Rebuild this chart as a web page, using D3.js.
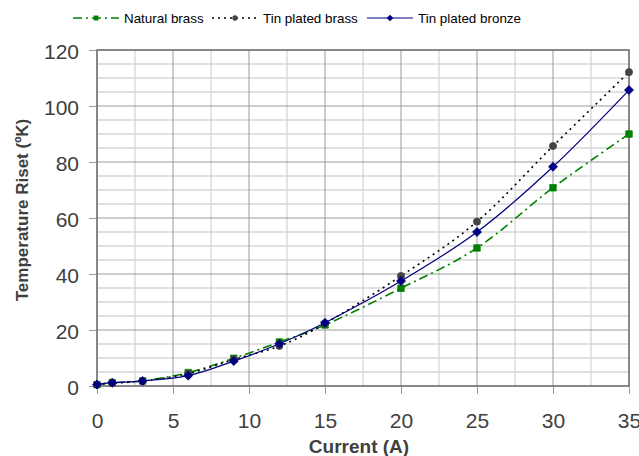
<!DOCTYPE html>
<html>
<head>
<meta charset="utf-8">
<script src="https://cdn.jsdelivr.net/npm/d3@7"></script>
<style>
  body { margin: 0; background: #fff; }
  svg { display: block; font-family: "Liberation Sans", Arial, sans-serif; }
</style>
</head>
<body>
<svg id="chart" width="639" height="456"></svg>
<script>
// data
var current = [0, 1, 3, 6, 9, 12, 15, 20, 25, 30, 35];
var naturalBrass = [0.5, 1.2, 1.8, 4.8, 9.9, 15.7, 21.8, 34.9, 49.3, 70.8, 90];
var tinPlatedBrass = [0.5, 1.0, 1.8, 4.4, 9.5, 14.3, 22.3, 39.3, 58.7, 85.7, 112.1];
var tinPlatedBronze = [0.5, 1.2, 1.8, 3.7, 8.9, 15.1, 22.6, 37.5, 55, 78.3, 105.7];
var seriesNames = ["Natural brass", "Tin plated brass", "Tin plated bronze"];
var xTicks = [0, 5, 10, 15, 20, 25, 30, 35];
var yTicks = [0, 20, 40, 60, 80, 100, 120];

var margin = { top: 50, right: 10, bottom: 70, left: 97 };
var svg = d3.select("#chart");
var width = 629 - margin.left;
var height = 386 - margin.top;

var x = d3.scaleLinear().domain([0, 35]).range([0, width]);
var y = d3.scaleLinear().domain([0, 120]).range([height, 0]);

var g = svg.append("g").attr("transform", "translate(" + margin.left + "," + margin.top + ")");

// minor grid
var xMinor = d3.range(0, 35.01, 2.5).filter(function (v) { return v % 5 !== 0; });
var yMinor = d3.range(0, 120.01, 5).filter(function (v) { return v % 20 !== 0; });
g.append("g").selectAll("line").data(xMinor).enter().append("line")
    .attr("x1", function (d) { return x(d); }).attr("x2", function (d) { return x(d); })
    .attr("y1", 0).attr("y2", height)
    .attr("stroke", "#d6d6d6").attr("stroke-width", 1.3);
g.append("g").selectAll("line").data(yMinor).enter().append("line")
    .attr("y1", function (d) { return y(d); }).attr("y2", function (d) { return y(d); })
    .attr("x1", 0).attr("x2", width)
    .attr("stroke", "#d6d6d6").attr("stroke-width", 1.3);

// major grid
g.append("g").selectAll("line").data(xTicks).enter().append("line")
    .attr("x1", function (d) { return x(d); }).attr("x2", function (d) { return x(d); })
    .attr("y1", 0).attr("y2", height)
    .attr("stroke", "#9a9a9a").attr("stroke-width", 1);
g.append("g").selectAll("line").data(yTicks).enter().append("line")
    .attr("y1", function (d) { return y(d); }).attr("y2", function (d) { return y(d); })
    .attr("x1", 0).attr("x2", width)
    .attr("stroke", "#9a9a9a").attr("stroke-width", 1);

// axes
var xAxis = g.append("g")
    .attr("transform", "translate(0," + height + ")")
    .call(d3.axisBottom(x).tickValues(xTicks).tickSize(8).tickPadding(19));
var yAxis = g.append("g")
    .call(d3.axisLeft(y).tickValues(yTicks).tickSize(8).tickPadding(10));
[xAxis, yAxis].forEach(function (a) {
    a.select(".domain").remove();
    a.selectAll(".tick line").attr("stroke", "#9a9a9a");
    a.selectAll(".tick text")
        .attr("fill", "#404040")
        .attr("font-size", 21)
        .attr("font-family", "Liberation Sans, Arial, sans-serif");
});
yAxis.selectAll(".tick text").attr("dy", "0.42em");
xAxis.selectAll(".tick text").attr("dy", "0.71em");

// plot frame
g.append("rect")
    .attr("width", width).attr("height", height)
    .attr("fill", "none").attr("stroke", "#707070").attr("stroke-width", 1.5);

// series
var series = [
    { name: seriesNames[0], values: naturalBrass, color: "#008000", dash: "9,4,2,4", width: 1.6, marker: "square", mcolor: "#008000" },
    { name: seriesNames[1], values: tinPlatedBrass, color: "#000000", dash: "2,4", width: 1.6, marker: "circle", mcolor: "#444444" },
    { name: seriesNames[2], values: tinPlatedBronze, color: "#000080", dash: null, width: 1.2, marker: "diamond", mcolor: "#000080" }
];
var symbols = {
    square: d3.symbol().type(d3.symbolSquare).size(42),
    circle: d3.symbol().type(d3.symbolCircle).size(40),
    diamond: d3.symbol().type(d3.symbolSquare).size(40)
};
var rot = { square: "", circle: "", diamond: " rotate(45)" };

var line = d3.line()
    .x(function (d) { return x(d[0]); })
    .y(function (d) { return y(d[1]); })
    .curve(d3.curveCardinal.tension(0));

series.forEach(function (s) {
    var pts = current.map(function (c, i) { return [c, s.values[i]]; });
    g.append("path")
        .datum(pts)
        .attr("d", line)
        .attr("fill", "none")
        .attr("stroke", s.color)
        .attr("stroke-width", s.width)
        .attr("stroke-dasharray", s.dash);
    g.append("g").selectAll("path").data(pts).enter().append("path")
        .attr("d", symbols[s.marker])
        .attr("transform", function (d) { return "translate(" + x(d[0]) + "," + y(d[1]) + ")" + rot[s.marker]; })
        .attr("fill", s.mcolor)
        .attr("stroke", s.mcolor)
        .attr("stroke-width", 0.8)
        .attr("stroke-linejoin", "round");
});

// legend
var legendX = [73, 212, 367];
var legend = svg.append("g").selectAll("g").data(series).enter().append("g")
    .attr("transform", function (d, i) { return "translate(" + legendX[i] + ",18)"; });
legend.append("line")
    .attr("x1", 0).attr("x2", 46).attr("y1", 0).attr("y2", 0)
    .attr("stroke", function (d) { return d.color; })
    .attr("stroke-width", function (d) { return d.width; })
    .attr("stroke-dasharray", function (d) { return d.dash; });
legend.append("path")
    .attr("d", function (d) { return symbols[d.marker](); })
    .attr("transform", function (d) { return "translate(23,0) scale(0.75)" + rot[d.marker]; })
    .attr("fill", function (d) { return d.mcolor; });
legend.append("text")
    .attr("x", 51).attr("y", 0).attr("dy", "0.35em")
    .attr("font-size", 13.4)
    .attr("fill", "#000")
    .text(function (d) { return d.name; });

// axis titles
svg.append("text")
    .attr("x", margin.left + width / 2 - 4).attr("y", 453)
    .attr("text-anchor", "middle")
    .attr("font-size", 19).attr("font-weight", "bold").attr("fill", "#404040")
    .text("Current (A)");
svg.append("text")
    .attr("transform", "translate(28,210) rotate(-90)")
    .attr("text-anchor", "middle")
    .attr("font-size", 17).attr("font-weight", "bold").attr("fill", "#404040")
    .text("Temperature Riset (ºK)");
</script>
</body>
</html>
